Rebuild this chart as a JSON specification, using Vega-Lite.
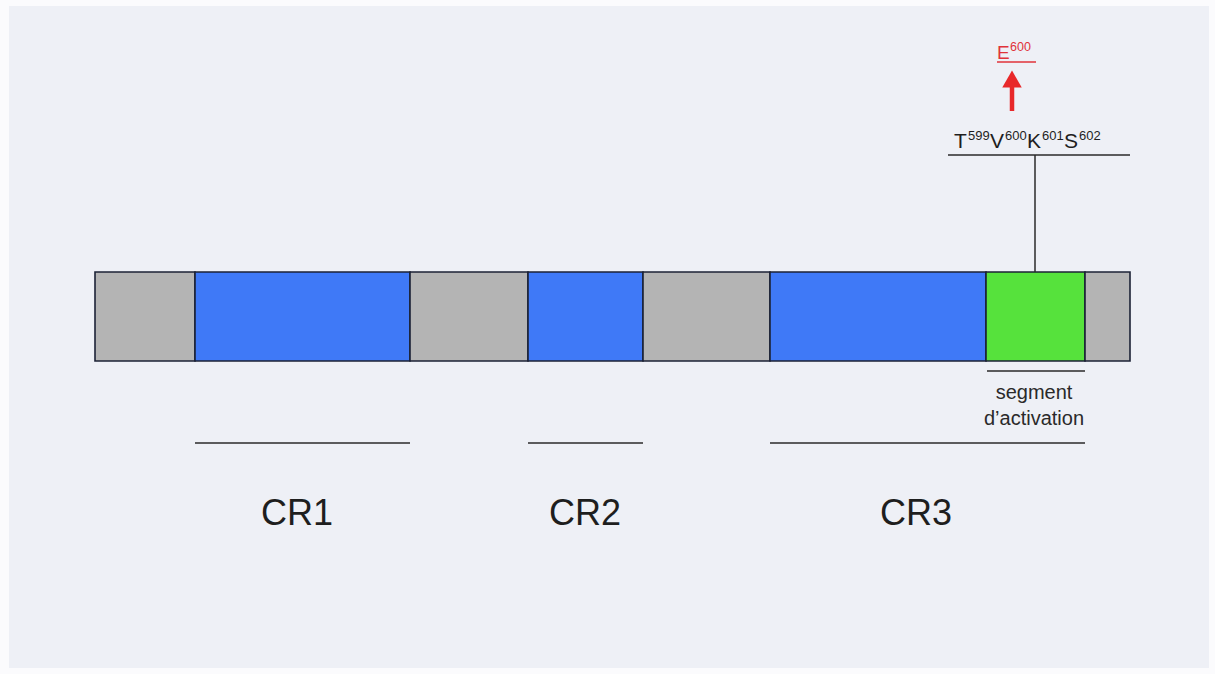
{
  "$schema": "https://vega.github.io/schema/vega-lite/v6.json",
  "width": 1215,
  "height": 674,
  "autosize": {"type": "fit", "contains": "padding"},
  "padding": 0,
  "background": "#fbfbfd",
  "config": {"view": {"stroke": null}, "font": "Liberation Sans"},
  "datasets": {
    "panel": [{"x0": 9, "x1": 1209, "y0": 6, "y1": 668}],
    "segments": [
      {"part": "inter", "start": 95, "end": 195},
      {"part": "CR", "start": 195, "end": 410},
      {"part": "inter", "start": 410, "end": 528},
      {"part": "CR", "start": 528, "end": 643},
      {"part": "inter", "start": 643, "end": 770},
      {"part": "CR", "start": 770, "end": 986},
      {"part": "activation", "start": 986, "end": 1085},
      {"part": "inter", "start": 1085, "end": 1130}
    ],
    "regions": [
      {"label": "CR1", "start": 195, "end": 410, "labelX": 297},
      {"label": "CR2", "start": 528, "end": 643, "labelX": 585},
      {"label": "CR3", "start": 770, "end": 1085, "labelX": 916}
    ],
    "main": [
      {"t": "T", "x": 954},
      {"t": "V", "x": 990},
      {"t": "K", "x": 1027},
      {"t": "S", "x": 1064}
    ],
    "sup": [
      {"t": "599", "x": 968},
      {"t": "600", "x": 1005},
      {"t": "601", "x": 1042},
      {"t": "602", "x": 1079}
    ]
  },
  "encoding": {},
  "layer": [
    {
      "data": {"name": "panel"},
      "mark": {"type": "rect", "color": "#eef0f6"},
      "encoding": {
        "x": {"field": "x0", "type": "quantitative", "scale": {"domain": [0, 1215], "nice": false, "zero": false}, "axis": null},
        "x2": {"field": "x1"},
        "y": {"field": "y0", "type": "quantitative", "scale": {"domain": [674, 0], "nice": false, "zero": false}, "axis": null},
        "y2": {"field": "y1"}
      }
    },
    {
      "data": {"name": "segments"},
      "mark": {"type": "rect", "stroke": "#1c2236", "strokeWidth": 1.6},
      "encoding": {
        "x": {"field": "start", "type": "quantitative"},
        "x2": {"field": "end"},
        "y": {"datum": 272, "type": "quantitative"},
        "y2": {"datum": 361},
        "color": {"field": "part", "type": "nominal", "scale": {"domain": ["inter", "CR", "activation"], "range": ["#b4b4b4", "#3f79f7", "#56e23c"]}, "legend": null}
      }
    },
    {
      "data": {"name": "regions"},
      "mark": {"type": "rule", "color": "#2a2a2a", "strokeWidth": 1.5},
      "encoding": {
        "x": {"field": "start", "type": "quantitative"},
        "x2": {"field": "end"},
        "y": {"datum": 443, "type": "quantitative"}
      }
    },
    {
      "data": {"name": "regions"},
      "mark": {"type": "text", "fontSize": 36, "color": "#1e1e1e", "align": "center", "baseline": "alphabetic"},
      "encoding": {
        "x": {"field": "labelX", "type": "quantitative"},
        "y": {"datum": 525, "type": "quantitative"},
        "text": {"field": "label"}
      }
    },
    {
      "data": {"values": [{"start": 987, "end": 1085}]},
      "mark": {"type": "rule", "color": "#2a2a2a", "strokeWidth": 1.5},
      "encoding": {
        "x": {"field": "start", "type": "quantitative"},
        "x2": {"field": "end"},
        "y": {"datum": 371, "type": "quantitative"}
      }
    },
    {
      "data": {"values": [{"line": "segment", "yy": 399}, {"line": "d’activation", "yy": 425}]},
      "mark": {"type": "text", "fontSize": 20, "color": "#2a2a2a", "align": "center", "baseline": "alphabetic"},
      "encoding": {
        "x": {"datum": 1034, "type": "quantitative"},
        "y": {"field": "yy", "type": "quantitative"},
        "text": {"field": "line"}
      }
    },
    {
      "data": {"values": [{"x": 1035, "top": 155, "bottom": 272}]},
      "mark": {"type": "rule", "color": "#2a2a2a", "strokeWidth": 1.5},
      "encoding": {
        "x": {"field": "x", "type": "quantitative"},
        "y": {"field": "top", "type": "quantitative"},
        "y2": {"field": "bottom"}
      }
    },
    {
      "data": {"values": [{"start": 948, "end": 1130}]},
      "mark": {"type": "rule", "color": "#2a2a2a", "strokeWidth": 1.5},
      "encoding": {
        "x": {"field": "start", "type": "quantitative"},
        "x2": {"field": "end"},
        "y": {"datum": 155, "type": "quantitative"}
      }
    },
    {
      "data": {"name": "main"},
      "mark": {"type": "text", "fontSize": 21, "color": "#1e1e1e", "align": "left", "baseline": "alphabetic"},
      "encoding": {
        "x": {"field": "x", "type": "quantitative"},
        "y": {"datum": 148, "type": "quantitative"},
        "text": {"field": "t"}
      }
    },
    {
      "data": {"name": "sup"},
      "mark": {"type": "text", "fontSize": 13, "color": "#1e1e1e", "align": "left", "baseline": "alphabetic"},
      "encoding": {
        "x": {"field": "x", "type": "quantitative"},
        "y": {"datum": 140, "type": "quantitative"},
        "text": {"field": "t"}
      }
    },
    {
      "data": {"values": [{"x": 1012, "top": 86, "bottom": 111}]},
      "mark": {"type": "rule", "color": "#e8282a", "strokeWidth": 4.5},
      "encoding": {
        "x": {"field": "x", "type": "quantitative"},
        "y": {"field": "top", "type": "quantitative"},
        "y2": {"field": "bottom"}
      }
    },
    {
      "data": {"values": [{"x": 1012, "y": 79}]},
      "mark": {"type": "point", "shape": "triangle-up", "filled": true, "color": "#e8282a", "size": 380, "opacity": 1},
      "encoding": {
        "x": {"field": "x", "type": "quantitative"},
        "y": {"field": "y", "type": "quantitative"}
      }
    },
    {
      "data": {"values": [{"t": "E", "x": 997}]},
      "mark": {"type": "text", "fontSize": 19, "color": "#e0333a", "align": "left", "baseline": "alphabetic"},
      "encoding": {
        "x": {"field": "x", "type": "quantitative"},
        "y": {"datum": 59, "type": "quantitative"},
        "text": {"field": "t"}
      }
    },
    {
      "data": {"values": [{"t": "600", "x": 1010}]},
      "mark": {"type": "text", "fontSize": 12.5, "color": "#e0333a", "align": "left", "baseline": "alphabetic"},
      "encoding": {
        "x": {"field": "x", "type": "quantitative"},
        "y": {"datum": 51, "type": "quantitative"},
        "text": {"field": "t"}
      }
    },
    {
      "data": {"values": [{"start": 997, "end": 1036}]},
      "mark": {"type": "rule", "color": "#e0333a", "strokeWidth": 1.3},
      "encoding": {
        "x": {"field": "start", "type": "quantitative"},
        "x2": {"field": "end"},
        "y": {"datum": 62, "type": "quantitative"}
      }
    }
  ]
}
